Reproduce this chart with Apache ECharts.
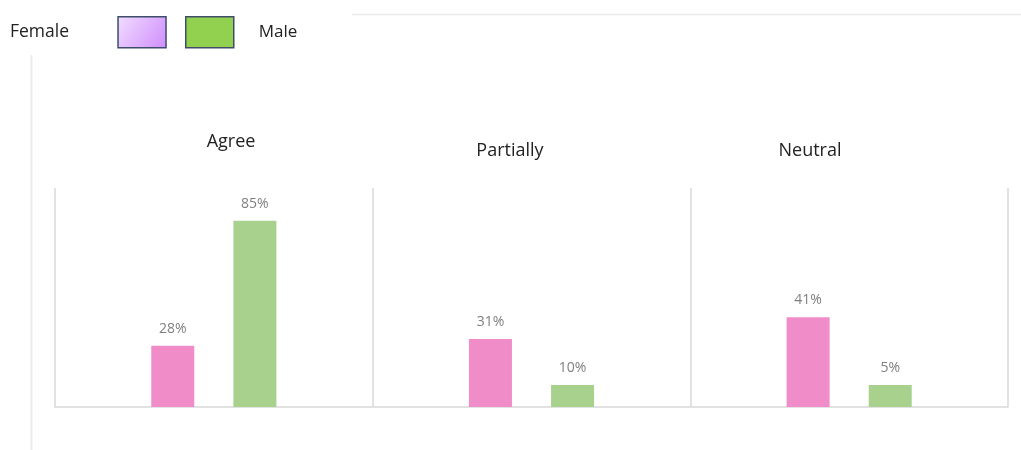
<!DOCTYPE html>
<html>
<head>
<meta charset="utf-8">
<script src="https://cdn.jsdelivr.net/npm/echarts@6/dist/echarts.min.js"></script>
<style>html,body{margin:0;padding:0;background:#fff;}#c{width:1021px;height:450px;}</style>
</head>
<body>
<div id="c"></div>
<script>
// Data
const categories = ['Agree', 'Partially', 'Neutral'];
const seriesNames = ['Female', 'Male'];
const femaleValues = [28, 31, 41];
const maleValues = [85, 10, 10];          // bar heights as drawn
const femaleLabels = ['28%', '31%', '41%'];
const maleLabels = ['85%', '10%', '5%'];  // label text as printed

const chart = echarts.init(document.getElementById('c'));
const font = '"Open Sans", "Noto Sans", sans-serif';
const titlePos = [{x: 231, y: 133}, {x: 510, y: 142}, {x: 810, y: 142}];

const option = {
  backgroundColor: '#ffffff',
  animation: false,
  title: categories.map((c, i) => ({
    text: c,
    left: titlePos[i].x,
    top: titlePos[i].y,
    textAlign: 'center',
    padding: 0,
    textStyle: {fontFamily: font, fontSize: 18, fontWeight: 'normal', color: '#222'}
  })),
  legend: [
    {
      left: 10, top: 16, align: 'right', padding: 0,
      itemWidth: 48, itemHeight: 31,
      textStyle: {fontFamily: font, fontSize: 17.5, color: '#222', padding: [4, 44, 0, 0]},
      data: [{name: 'Female', icon: 'rect', itemStyle: {
        color: new echarts.graphic.LinearGradient(0, 0, 1, 1, [
          {offset: 0, color: '#f1defe'}, {offset: 1, color: '#cf8cfd'}]),
        borderColor: '#3d4d6a', borderWidth: 1.5}}],
      selectedMode: false
    },
    {
      left: 185, top: 16, align: 'left', padding: 0,
      itemWidth: 48, itemHeight: 31,
      textStyle: {fontFamily: font, fontSize: 17, color: '#222', padding: [0, 0, 2, 20]},
      data: [{name: 'Male', icon: 'rect', itemStyle: {
        color: '#92d050', borderColor: '#3d4d6a', borderWidth: 1.5}}],
      selectedMode: false
    }
  ],
  grid: {left: 55, right: 13, top: 188, bottom: 43, containLabel: false},
  xAxis: {
    type: 'category',
    data: categories,
    boundaryGap: true,
    axisLine: {show: true, lineStyle: {color: '#d9d9d9', width: 1.5}},
    axisTick: {show: false},
    axisLabel: {show: false},
    splitLine: {show: true, lineStyle: {color: '#d9d9d9', width: 1.5}}
  },
  yAxis: {
    type: 'value', min: 0, max: 100,
    show: false,
    splitLine: {show: false}
  },
  series: [
    {
      name: seriesNames[0], type: 'bar', data: femaleValues,
      barWidth: 43, barGap: '91%',
      itemStyle: {color: '#f08cc8'},
      label: {show: true, position: 'top', distance: 10, color: '#7f7f7f',
        fontFamily: font, fontSize: 14,
        formatter: p => femaleLabels[p.dataIndex]}
    },
    {
      name: seriesNames[1], type: 'bar', data: maleValues,
      barWidth: 43, barGap: '91%',
      itemStyle: {color: '#a9d18e'},
      label: {show: true, position: 'top', distance: 10, color: '#7f7f7f',
        fontFamily: font, fontSize: 14,
        formatter: p => maleLabels[p.dataIndex]}
    }
  ],
  graphic: [
    {type: 'line', shape: {x1: 352, y1: 14.5, x2: 1021, y2: 14.5},
      style: {stroke: '#ebebeb', lineWidth: 1.5}, silent: true},
    {type: 'line', shape: {x1: 31.5, y1: 55, x2: 31.5, y2: 450},
      style: {stroke: '#ebebeb', lineWidth: 2}, silent: true}
  ]
};
chart.setOption(option);
</script>
</body>
</html>
